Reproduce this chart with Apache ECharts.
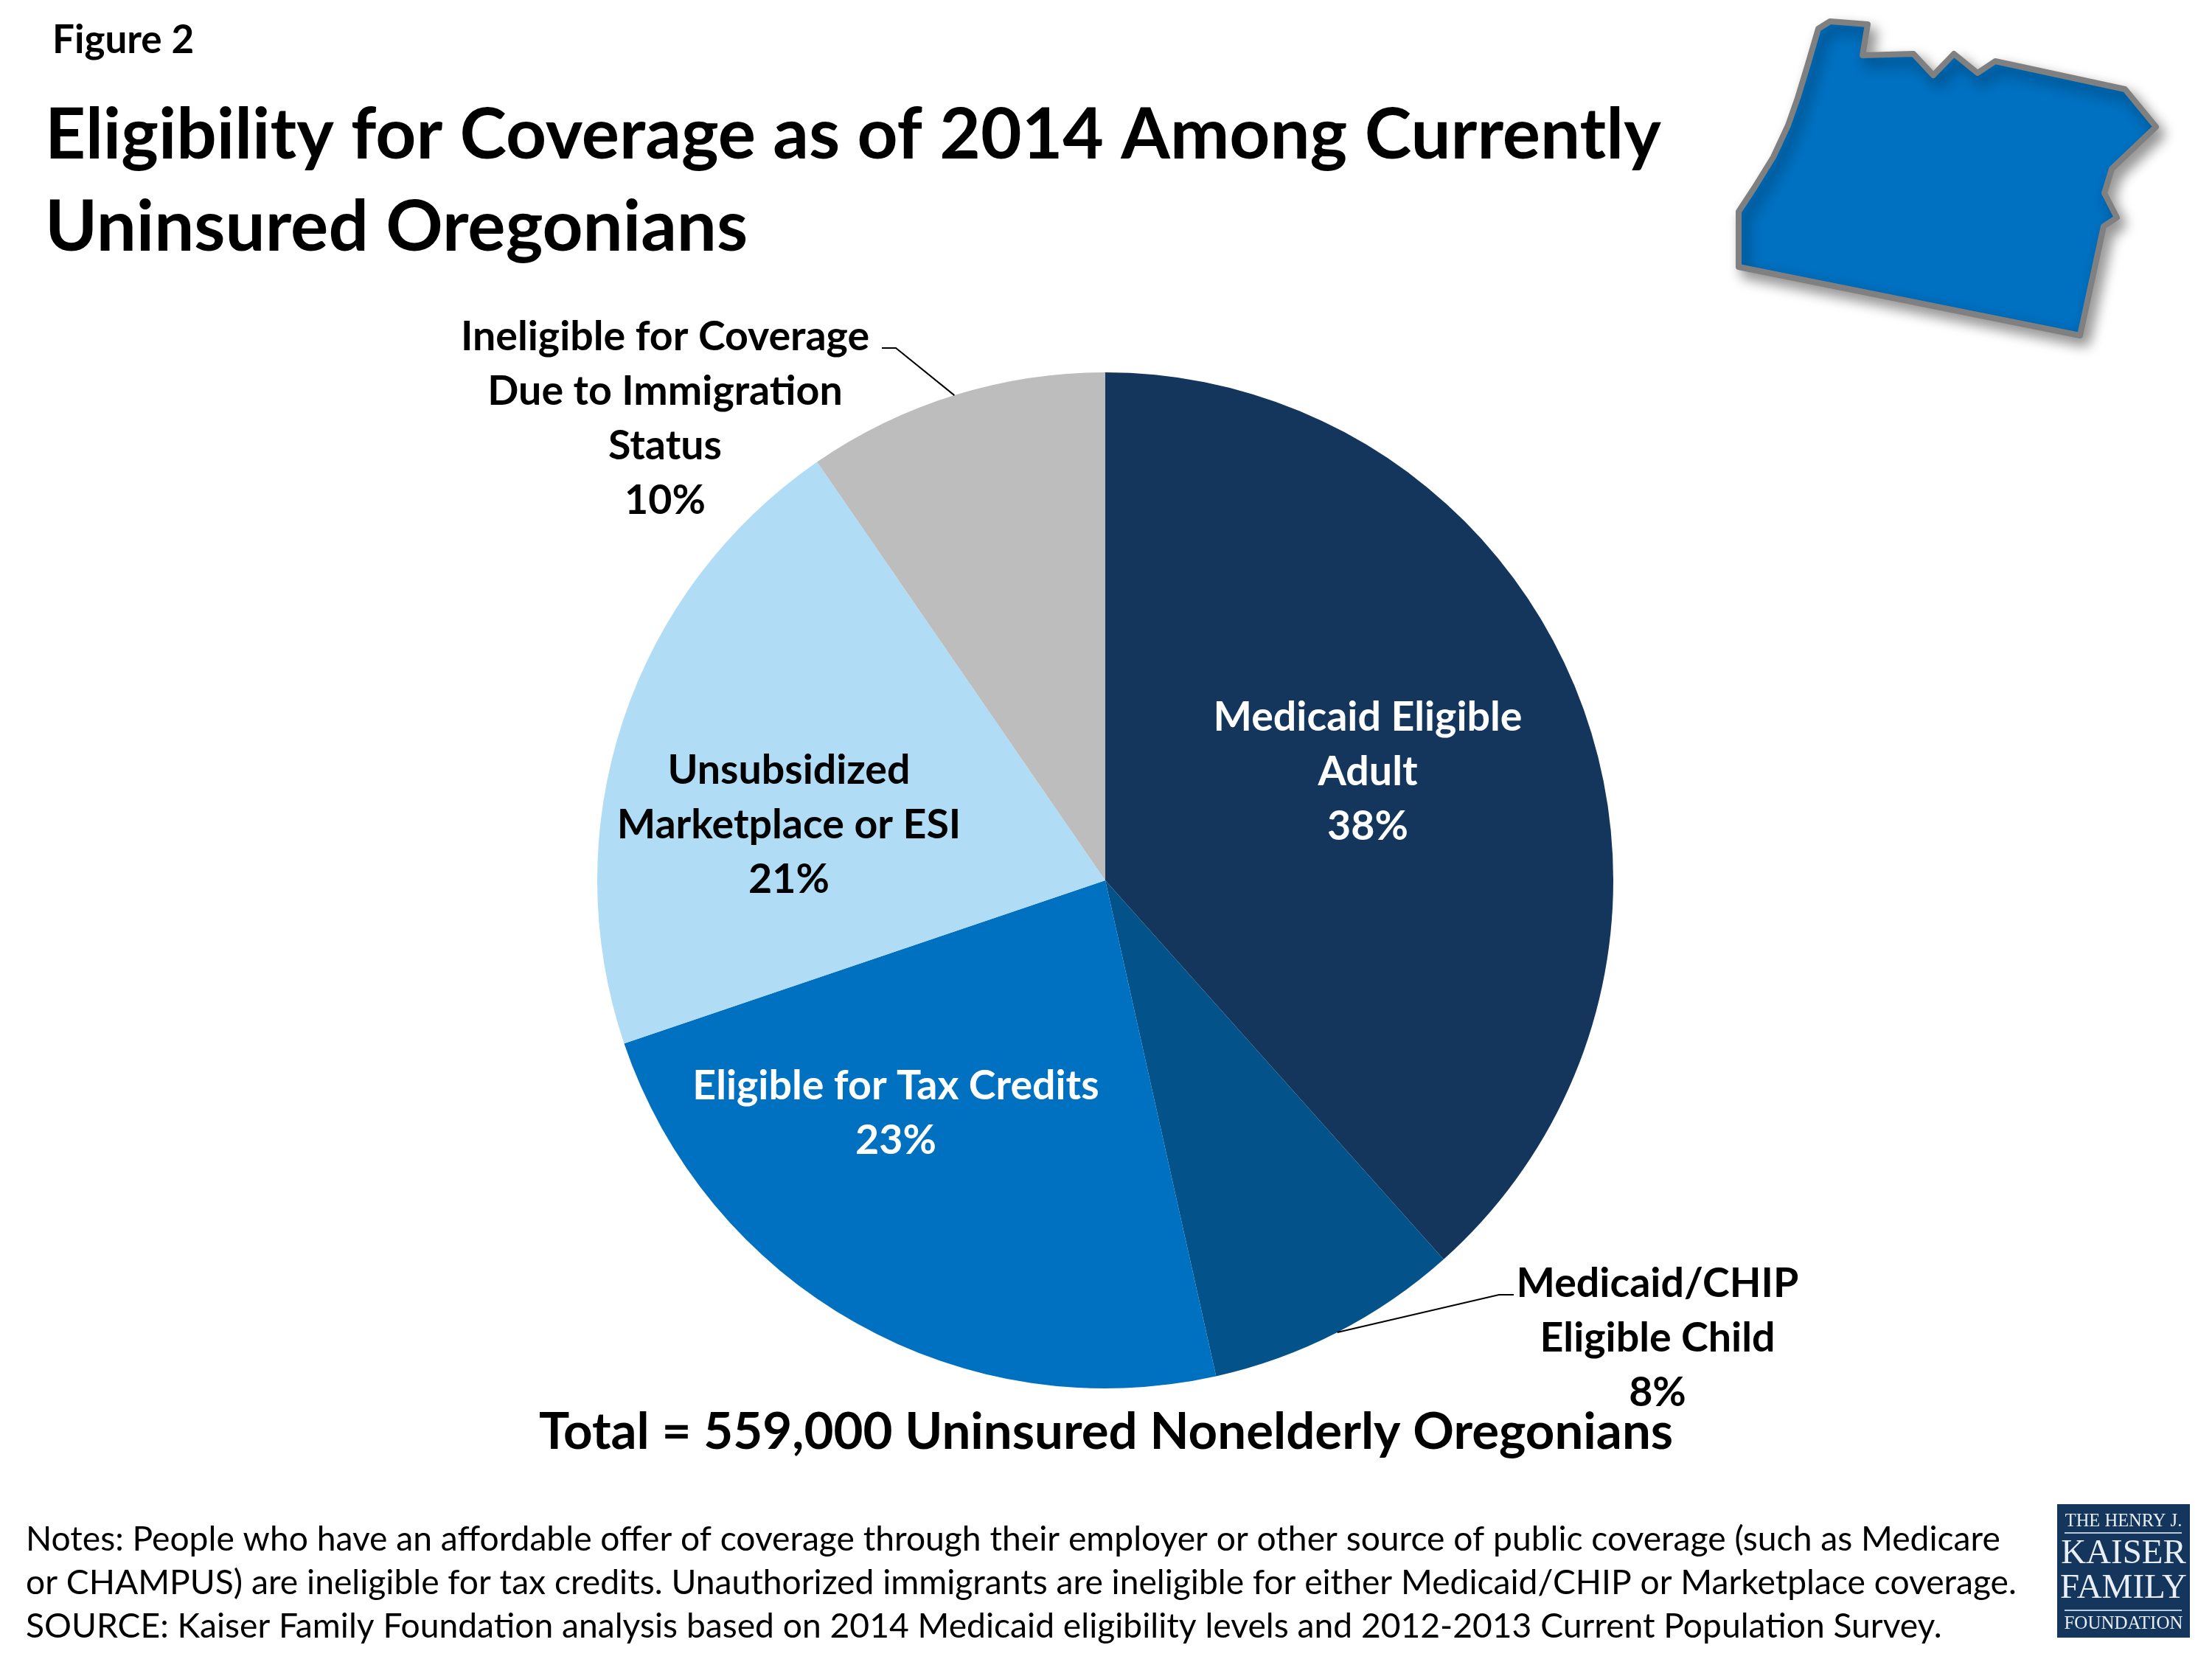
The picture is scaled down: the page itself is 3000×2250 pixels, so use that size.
<!DOCTYPE html>
<html>
<head>
<meta charset="utf-8">
<style>
  html, body { margin: 0; padding: 0; background: #fff; }
  #main { width: 3000px; height: 2250px; }
</style>
<script src="https://cdn.jsdelivr.net/npm/echarts@6/dist/echarts.min.js"></script>
</head>
<body>
<div id="main"></div>
<script>
const categories = [
  "Medicaid Eligible\nAdult",
  "Medicaid/CHIP\nEligible Child",
  "Eligible for Tax Credits",
  "Unsubsidized\nMarketplace or ESI",
  "Ineligible for Coverage\nDue to Immigration\nStatus"
];
const shares = [38.4, 8.1, 23.3, 20.6, 9.6];
const sliceColors = ["#14365C", "#03528A", "#0070C0", "#B0DCF5", "#BDBDBD"];
const labelColors = ["#ffffff", "#000000", "#ffffff", "#000000", "#000000"];
const titleLines = "Eligibility for Coverage as of 2014 Among Currently\nUninsured Oregonians";
const totalLine = "Total = 559,000 Uninsured Nonelderly Oregonians";
const notes = "Notes: People who have an affordable offer of coverage through their employer or other source of public coverage (such as Medicare\nor CHAMPUS) are ineligible for tax credits. Unauthorized immigrants are ineligible for either Medicaid/CHIP or Marketplace coverage.\nSOURCE: Kaiser Family Foundation analysis based on 2014 Medicaid eligibility levels and 2012-2013 Current Population Survey.";

const FONT = "Lato";
const cx = 1499, cy = 1194, radius = 689;
const labelSpots = [[1855, 1047], [2248, 1815], [1215, 1510], [1070, 1119], [902, 568]];

// state outline
const oregon = [[2466,39],[2482,29],[2533,33],[2526,75],[2595,73],[2622,102],[2650,73],[2682,99],[2706,83],
  [2882,121],[2924,172],[2864,229],[2854,262],[2871,295],[2853,307],[2821,455],[2358,362],[2358,287],
  [2379,255],[2405,213],[2425,170],[2438,133],[2452,87]];

// point on the pie rim at the middle of a slice
function rimPoint(i) {
  let before = 0;
  for (let k = 0; k < i; k++) before += shares[k];
  const total = shares.reduce((a, b) => a + b, 0);
  const ang = (before + shares[i] / 2) / total * 2 * Math.PI;
  return [cx + radius * Math.sin(ang), cy - radius * Math.cos(ang)];
}

function logoText(text, y, size) {
  return {
    type: "text", z: 12,
    style: { text: text, x: 2880, y: y, align: "center", verticalAlign: "middle",
      fill: "#E8EEF4", font: size + "px 'Liberation Serif'" }
  };
}

const chart = echarts.init(document.getElementById("main"));
chart.setOption({
  backgroundColor: "#ffffff",
  animation: false,
  title: [
    { text: "Figure 2", left: 66, top: 23, textStyle: { fontFamily: FONT, fontSize: 53, fontWeight: "bold", color: "#000" } },
    { text: titleLines, left: 56, top: 117, textStyle: { fontFamily: FONT, fontSize: 96, fontWeight: "bold", color: "#000", lineHeight: 125 } },
    { text: totalLine, left: 1495, top: 1903, textAlign: "center", textStyle: { fontFamily: FONT, fontSize: 69, fontWeight: "bold", color: "#000" } },
    { text: notes, left: 30, top: 2054, textStyle: { fontFamily: FONT, fontSize: 46.2, fontWeight: "normal", color: "#000", lineHeight: 59 } }
  ],
  graphic: [
    { type: "polygon", z: 10,
      shape: { points: oregon },
      style: { fill: "#0070C0", stroke: "#808080", lineWidth: 8, lineJoin: "round",
        shadowBlur: 18, shadowOffsetX: 8, shadowOffsetY: 10, shadowColor: "rgba(0,0,0,0.4)" } },
    { type: "rect", z: 11, shape: { x: 2790, y: 2040, width: 180, height: 181 }, style: { fill: "#14365C" } },
    logoText("THE HENRY J.", 2064, 24.5),
    { type: "line", z: 12, shape: { x1: 2800, y1: 2079, x2: 2959, y2: 2079 }, style: { stroke: "#B8C6D6", lineWidth: 2 } },
    logoText("KAISER", 2108, 47),
    logoText("FAMILY", 2155, 47),
    { type: "line", z: 12, shape: { x1: 2800, y1: 2184, x2: 2959, y2: 2184 }, style: { stroke: "#B8C6D6", lineWidth: 2 } },
    logoText("FOUNDATION", 2202, 25),
    { type: "polyline", z: 5, shape: { points: [rimPoint(4), [1215, 472], [1196, 472]] }, style: { fill: "none", stroke: "#000", lineWidth: 2 } },
    { type: "polyline", z: 5, shape: { points: [rimPoint(1), [2033, 1756], [2053, 1756]] }, style: { fill: "none", stroke: "#000", lineWidth: 2 } }
  ],
  series: [{
    type: "pie",
    center: [cx, cy],
    radius: [0, radius],
    startAngle: 90,
    clockwise: true,
    silent: true,
    data: categories.map((name, i) => ({
      name: name,
      value: shares[i],
      itemStyle: { color: sliceColors[i] },
      label: { color: labelColors[i] }
    })),
    label: {
      show: true,
      position: "inside",
      fontFamily: FONT,
      fontSize: 55.5,
      fontWeight: "bold",
      lineHeight: 74,
      align: "center",
      formatter: (p) => p.name + "\n" + Math.round(p.value) + "%"
    },
    labelLine: { show: false },
    labelLayout: (p) => ({
      x: labelSpots[p.dataIndex][0],
      y: labelSpots[p.dataIndex][1],
      align: "center",
      verticalAlign: "middle"
    })
  }]
});
</script>
</body>
</html>
